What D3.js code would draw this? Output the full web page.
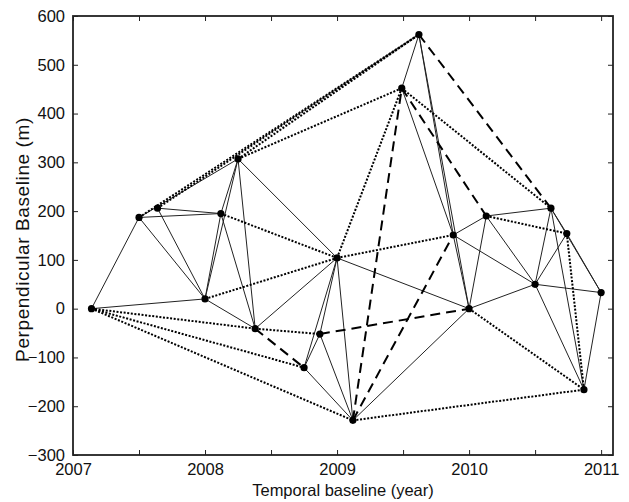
<!DOCTYPE html>
<html>
<head>
<meta charset="utf-8">
<script src="https://cdn.jsdelivr.net/npm/d3@7"></script>
<style>
  body { margin: 0; background: #fff; }
  text { font-family: "Liberation Sans", Arial, sans-serif; fill: #111; }
</style>
</head>
<body>
<svg id="chart"></svg>
<script>
// acquisitions: id, decimal year, perpendicular baseline (m)
const ids   = ['A', 'B', 'C', 'D', 'E', 'F', 'G', 'H', 'I', 'J', 'K',
               'L', 'M', 'N', 'O', 'P', 'Q', 'R', 'S', 'T', 'U'];
const years = [2007.14, 2007.50, 2007.64, 2008.00, 2008.12, 2008.25, 2008.38,
               2008.75, 2008.87, 2009.00, 2009.12, 2009.49, 2009.62, 2009.88,
               2010.00, 2010.13, 2010.50, 2010.62, 2010.74, 2010.87, 2011.00];
const bperp = [0, 187, 206, 20, 195, 307, -41, -121, -52, 104, -229,
               452, 562, 151, 0, 190, 50, 206, 154, -166, 33];

// interferometric pairs
const solidPairs = ['A-B', 'A-D', 'B-E', 'B-F', 'B-D', 'C-E', 'C-D', 'E-D', 'F-E',
  'F-D', 'F-G', 'F-J', 'E-G', 'D-G', 'G-J', 'J-I', 'J-H', 'I-H', 'J-K', 'I-K',
  'H-K', 'J-O', 'K-O', 'L-M', 'L-N', 'M-N', 'M-O', 'N-O', 'N-P', 'N-Q', 'P-R',
  'P-Q', 'P-O', 'O-Q', 'R-Q', 'S-Q', 'R-S', 'R-U', 'S-U', 'Q-U', 'Q-T', 'R-T', 'U-T'];
const dottedPairs = ['A-G', 'A-H', 'A-K', 'B-M', 'C-M', 'F-M', 'F-L', 'E-J', 'D-J',
  'G-I', 'J-L', 'J-N', 'K-T', 'O-T', 'P-S', 'L-R', 'S-T'];
const dashedPairs = ['G-H', 'I-O', 'K-L', 'K-N', 'L-P', 'M-R'];

const xTicks = [2007, 2007.5, 2008, 2008.5, 2009, 2009.5, 2010, 2010.5, 2011];
const yTicks = [-300, -200, -100, 0, 100, 200, 300, 400, 500, 600];

const totalW = 629, totalH = 502;
const mg = { top: 16, right: 16, bottom: 47, left: 73 };
const W = totalW - mg.left - mg.right;
const H = totalH - mg.top - mg.bottom;

const svg = d3.select('#chart').attr('width', totalW).attr('height', totalH);
const g = svg.append('g').attr('transform', `translate(${mg.left},${mg.top})`);

const x = d3.scaleLinear().domain([2007, 2011.09]).range([0, W]);
const y = d3.scaleLinear().domain([-300, 600]).range([H, 0]);

const pts = ids.map((id, i) => ({ id, t: years[i], b: bperp[i] }));
const byId = new Map(pts.map(p => [p.id, p]));

// Edges
function drawPairs(list, cls, width, dash, color) {
  g.append('g').attr('class', cls).selectAll('line')
    .data(list.map(s => s.split('-').map(k => byId.get(k))))
    .join('line')
    .attr('x1', d => x(d[0].t)).attr('y1', d => y(d[0].b))
    .attr('x2', d => x(d[1].t)).attr('y2', d => y(d[1].b))
    .attr('stroke', color).attr('stroke-width', width)
    .attr('stroke-dasharray', dash);
}
drawPairs(solidPairs, 'solid', 1, null, '#222');
drawPairs(dottedPairs, 'dotted', 2, '2,1.6', '#000');
drawPairs(dashedPairs, 'dashed', 2, '10,6', '#000');

// Points
g.append('g').selectAll('circle').data(pts).join('circle')
  .attr('cx', d => x(d.t)).attr('cy', d => y(d.b)).attr('r', 3.6)
  .attr('fill', '#000');

// Axes (MATLAB-style box with inward ticks)
const fmtX = d => (d % 1 === 0 ? d : '');
g.append('g').attr('transform', `translate(0,${H})`)
  .call(d3.axisBottom(x).tickValues(xTicks).tickSizeInner(-5).tickSizeOuter(0)
    .tickPadding(8).tickFormat(fmtX));
g.append('g')
  .call(d3.axisTop(x).tickValues(xTicks).tickSizeInner(-5).tickSizeOuter(0)
    .tickFormat(''));
g.append('g')
  .call(d3.axisLeft(y).tickValues(yTicks).tickSizeInner(-5).tickSizeOuter(0)
    .tickPadding(8));
g.append('g').attr('transform', `translate(${W},0)`)
  .call(d3.axisRight(y).tickValues(yTicks).tickSizeInner(-5).tickSizeOuter(0)
    .tickFormat(''));

g.selectAll('.domain').remove();
g.selectAll('.tick line').attr('stroke', '#222').attr('stroke-width', 1);
g.selectAll('.tick text').attr('font-size', 16.5).attr('fill', '#111')
  .attr('font-family', '"Liberation Sans", Arial, sans-serif');

g.append('rect').attr('x', 0).attr('y', 0).attr('width', W).attr('height', H)
  .attr('fill', 'none').attr('stroke', '#222').attr('stroke-width', 1.8);

// Titles
svg.append('text')
  .attr('x', mg.left + W / 2).attr('y', 496)
  .attr('text-anchor', 'middle').attr('font-size', 16.5)
  .text('Temporal baseline (year)');
svg.append('text')
  .attr('transform', `translate(29,${mg.top + H / 2 + 4}) rotate(-90)`)
  .attr('text-anchor', 'middle').attr('font-size', 19)
  .attr('letter-spacing', 0.6)
  .text('Perpendicular Baseline (m)');
</script>
</body>
</html>
